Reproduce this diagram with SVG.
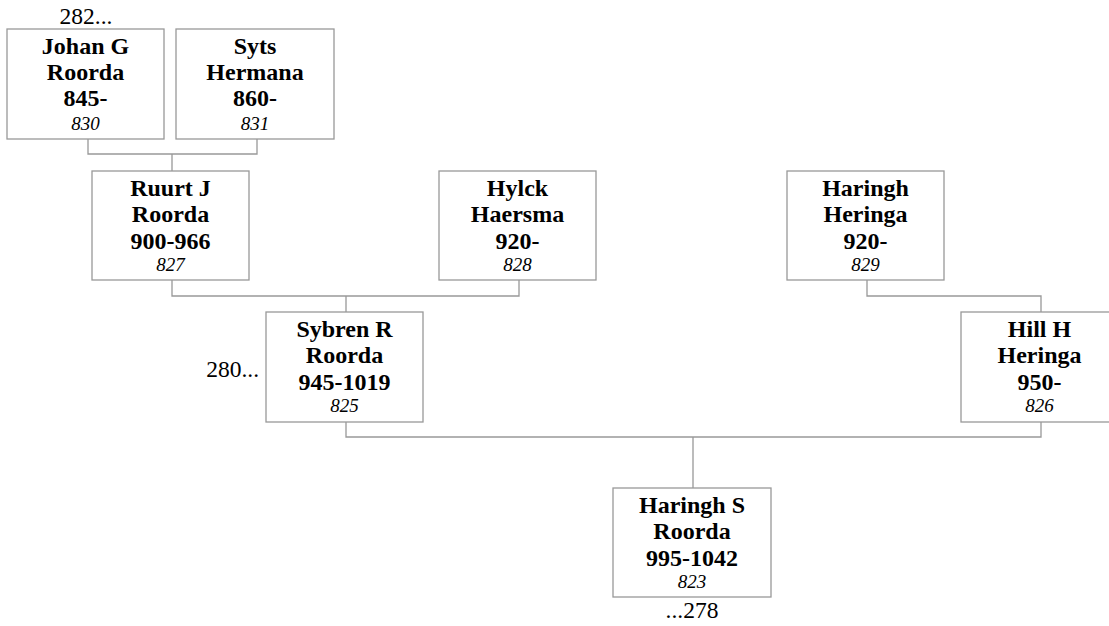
<svg xmlns="http://www.w3.org/2000/svg" width="1109" height="626" viewBox="0 0 1109 626" font-family="Liberation Serif, Times New Roman, Tinos, DejaVu Serif, serif">
<style>
.box{fill:#fff;stroke:#999;stroke-width:1.3}
.con{fill:none;stroke:#999;stroke-width:1.3}
text{font-family:'Liberation Serif','Times New Roman',Tinos,'DejaVu Serif',serif;fill:#000}
.b{font-weight:bold;font-size:24px;text-anchor:middle}
.i{font-style:italic;font-size:19px;text-anchor:middle}
.r{font-size:23.5px}
</style>
<rect width="1109" height="626" fill="#fff"/>
<g id="connectors">
<path class="con" d="M88 139V154H257V139M172 154V171"/>
<path class="con" d="M172 280V296H519V280M346 296V312"/>
<path class="con" d="M867 280V296H1041V312"/>
<path class="con" d="M346 422V437H1041V422M693 437V488"/>
</g>
<g id="n830">
<rect class="box" x="7" y="29" width="157" height="110"/>
<text class="b" x="85.5" y="54">Johan G</text>
<text class="b" x="85.5" y="80">Roorda</text>
<text class="b" x="85.5" y="106">845-</text>
<text class="i" x="85.5" y="130">830</text>
</g>
<g id="n831">
<rect class="box" x="176" y="29" width="158" height="110"/>
<text class="b" x="255" y="54">Syts</text>
<text class="b" x="255" y="80">Hermana</text>
<text class="b" x="255" y="106">860-</text>
<text class="i" x="255" y="130">831</text>
</g>
<g id="n827">
<rect class="box" x="92" y="171" width="157" height="109"/>
<text class="b" x="170.5" y="196">Ruurt J</text>
<text class="b" x="170.5" y="222">Roorda</text>
<text class="b" x="170.5" y="249">900-966</text>
<text class="i" x="170.5" y="271">827</text>
</g>
<g id="n828">
<rect class="box" x="439" y="171" width="157" height="109"/>
<text class="b" x="517.5" y="196">Hylck</text>
<text class="b" x="517.5" y="222">Haersma</text>
<text class="b" x="517.5" y="249">920-</text>
<text class="i" x="517.5" y="271">828</text>
</g>
<g id="n829">
<rect class="box" x="787" y="171" width="157" height="109"/>
<text class="b" x="865.5" y="196">Haringh</text>
<text class="b" x="865.5" y="222">Heringa</text>
<text class="b" x="865.5" y="249">920-</text>
<text class="i" x="865.5" y="271">829</text>
</g>
<g id="n825">
<rect class="box" x="266" y="312" width="157" height="110"/>
<text class="b" x="344.5" y="337">Sybren R</text>
<text class="b" x="344.5" y="363">Roorda</text>
<text class="b" x="344.5" y="390">945-1019</text>
<text class="i" x="344.5" y="412">825</text>
</g>
<g id="n826">
<rect class="box" x="961" y="312" width="157" height="110"/>
<text class="b" x="1039.5" y="337">Hill H</text>
<text class="b" x="1039.5" y="363">Heringa</text>
<text class="b" x="1039.5" y="390">950-</text>
<text class="i" x="1039.5" y="412">826</text>
</g>
<g id="n823">
<rect class="box" x="613" y="488" width="158" height="109"/>
<text class="b" x="692" y="513">Haringh S</text>
<text class="b" x="692" y="539">Roorda</text>
<text class="b" x="692" y="566">995-1042</text>
<text class="i" x="692" y="588">823</text>
</g>
<g id="labels">
<text class="r" x="86" y="24" text-anchor="middle">282...</text>
<text class="r" x="259" y="377" text-anchor="end">280...</text>
<text class="r" x="692" y="618" text-anchor="middle">...278</text>
</g>
</svg>
